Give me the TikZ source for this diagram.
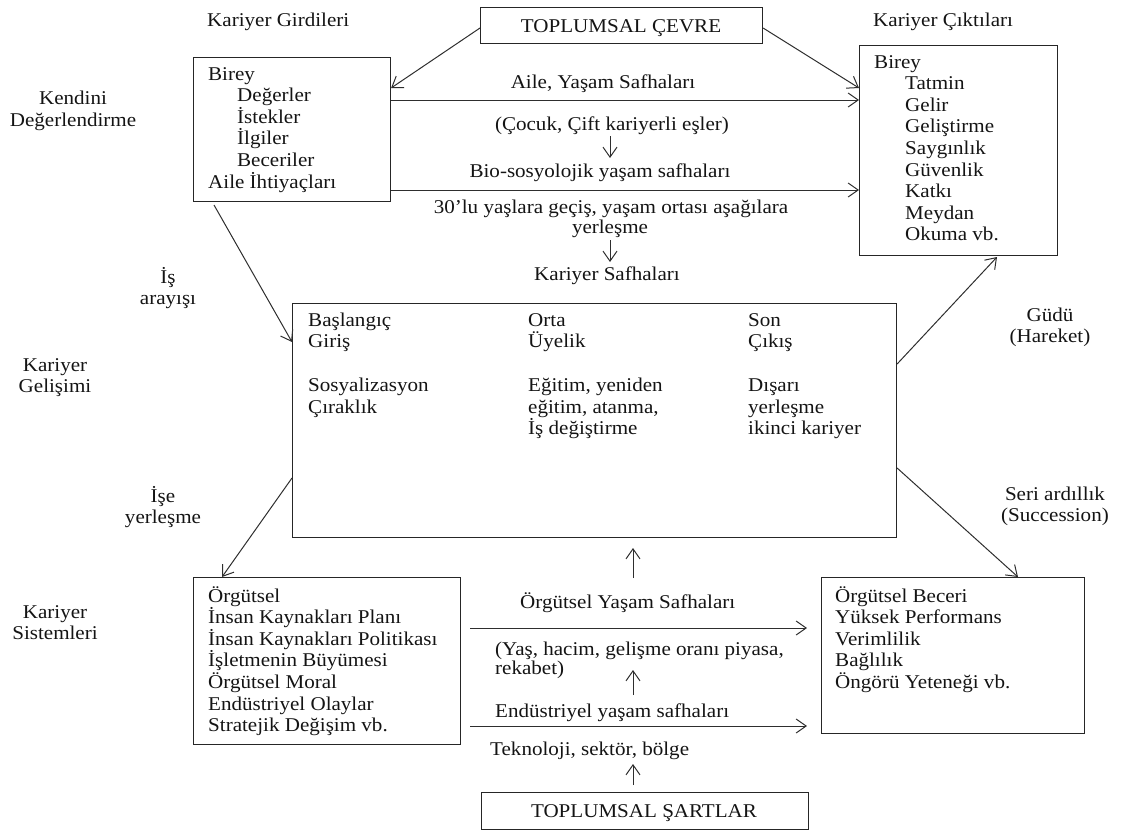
\documentclass[tikz,border=0pt]{standalone}
\usepackage{fontspec}
\setmainfont{Liberation Serif}[FakeStretch=1.08]
\usetikzlibrary{arrows.meta}
\begin{document}
\begin{tikzpicture}[x=1pt,y=-1pt,
  box/.style={draw=black!85, line width=1.1pt, inner sep=0pt, anchor=north west},
  txt/.style={inner sep=0pt, anchor=base west, text=black!92},
  ctxt/.style={inner sep=0pt, anchor=base, text=black!92},
  arr/.style={draw=black!82, line width=1pt, -{Straight Barb[length=10pt,width=14pt,line width=1pt]}},
  every node/.append style={font=\fontsize{19.5}{21.6}\selectfont}]
\useasboundingbox (0,0) rectangle (1122,831);
% boxes
\node[box, minimum width=282, minimum height=36] (env) at (480,7) {};
\node[box, minimum width=197, minimum height=144] (inp) at (193,57) {};
\node[box, minimum width=198, minimum height=210] (out) at (859,45) {};
\node[box, minimum width=604, minimum height=234] (mid) at (292,303) {};
\node[box, minimum width=267, minimum height=167] (org) at (193,577) {};
\node[box, minimum width=263, minimum height=156] (res) at (821,577) {};
\node[box, minimum width=327, minimum height=37] (soc) at (481,792) {};
% box titles
\node[ctxt] (envt) at (621,32) {TOPLUMSAL ÇEVRE};
\node[ctxt] (soct) at (644,817) {TOPLUMSAL ŞARTLAR};
% headings
\node[txt] (hin) at (207,26) {Kariyer Girdileri};
\node[txt] (hout) at (873,26) {Kariyer Çıktıları};
% input box text
\node[txt] (i1) at (208,80) {Birey};
\node[txt] (i2) at (237,101.6) {Değerler};
\node[txt] (i3) at (237,123.2) {İstekler};
\node[txt] (i4) at (237,144.8) {İlgiler};
\node[txt] (i5) at (237,166.4) {Beceriler};
\node[txt] (i6) at (208,188) {Aile İhtiyaçları};
% output box text
\node[txt] (o1) at (874,68) {Birey};
\node[txt] (o2) at (905,89.6) {Tatmin};
\node[txt] (o3) at (905,111.2) {Gelir};
\node[txt] (o4) at (905,132.8) {Geliştirme};
\node[txt] (o5) at (905,154.4) {Saygınlık};
\node[txt] (o6) at (905,176) {Güvenlik};
\node[txt] (o7) at (905,197.6) {Katkı};
\node[txt] (o8) at (905,219.2) {Meydan};
\node[txt] (o9) at (905,240.8) {Okuma vb.};
% middle text
\node[ctxt] (l1) at (603,88) {Aile, Yaşam Safhaları};
\node[ctxt] (l2) at (612,130) {(Çocuk, Çift kariyerli eşler)};
\node[ctxt] (l3) at (600,177) {Bio-sosyolojik yaşam safhaları};
\node[ctxt] (l4) at (611,213) {30’lu yaşlara geçiş, yaşam ortası aşağılara};
\node[ctxt] (l5) at (610,233) {yerleşme};
\node[ctxt] (l6) at (607,280) {Kariyer Safhaları};
% left labels
\node[ctxt] (k1) at (73,104) {Kendini};
\node[ctxt] (k2) at (73,126) {Değerlendirme};
\node[ctxt] (a1) at (168,283) {İş};
\node[ctxt] (a2) at (168,304) {arayışı};
\node[ctxt] (g1) at (55,371) {Kariyer};
\node[ctxt] (g2) at (55,392) {Gelişimi};
\node[ctxt] (y1) at (163,502) {İşe};
\node[ctxt] (y2) at (163,523) {yerleşme};
\node[ctxt] (s1) at (55,618) {Kariyer};
\node[ctxt] (s2) at (55,639) {Sistemleri};
% right labels
\node[ctxt] (h1) at (1050,321) {Güdü};
\node[ctxt] (h2) at (1050,342) {(Hareket)};
\node[ctxt] (r1) at (1055,500) {Seri ardıllık};
\node[ctxt] (r2) at (1055,521) {(Succession)};
% career phases box text
\node[txt] (m1) at (308,326) {Başlangıç};
\node[txt] (m2) at (308,347.5) {Giriş};
\node[txt] (m3) at (308,391.5) {Sosyalizasyon};
\node[txt] (m4) at (308,413) {Çıraklık};
\node[txt] (n1) at (528,326) {Orta};
\node[txt] (n2) at (528,347.5) {Üyelik};
\node[txt] (n3) at (528,391.5) {Eğitim, yeniden};
\node[txt] (n4) at (528,413) {eğitim, atanma,};
\node[txt] (n5) at (528,434.5) {İş değiştirme};
\node[txt] (p1) at (748,326) {Son};
\node[txt] (p2) at (748,347.5) {Çıkış};
\node[txt] (p3) at (748,391.5) {Dışarı};
\node[txt] (p4) at (748,413) {yerleşme};
\node[txt] (p5) at (748,434.5) {ikinci kariyer};
% organisation box text
\node[txt] (q1) at (208,602) {Örgütsel};
\node[txt] (q2) at (208,623.6) {İnsan Kaynakları Planı};
\node[txt] (q3) at (208,645.2) {İnsan Kaynakları Politikası};
\node[txt] (q4) at (208,666.8) {İşletmenin Büyümesi};
\node[txt] (q5) at (208,688.4) {Örgütsel Moral};
\node[txt] (q6) at (208,710) {Endüstriyel Olaylar};
\node[txt] (q7) at (208,731.6) {Stratejik Değişim vb.};
% results box text
\node[txt] (e1) at (835,602) {Örgütsel Beceri};
\node[txt] (e2) at (835,623.6) {Yüksek Performans};
\node[txt] (e3) at (835,645.2) {Verimlilik};
\node[txt] (e4) at (835,666.8) {Bağlılık};
\node[txt] (e5) at (835,688.4) {Öngörü Yeteneği vb.};
% bottom middle text
\node[txt] (b1) at (520,608) {Örgütsel Yaşam Safhaları};
\node[txt] (b2) at (495,655) {(Yaş, hacim, gelişme oranı piyasa,};
\node[txt] (b3) at (495,674) {rekabet)};
\node[txt] (b4) at (495,717) {Endüstriyel yaşam safhaları};
\node[txt] (b5) at (490,755) {Teknoloji, sektör, bölge};
% connectors
\draw[arr] (env.west |- 0,28) -- (inp.east |- 0,88);
\draw[arr] (env.east |- 0,28) -- (out.west |- 0,88);
\draw[arr] (inp.east |- 0,100) -- (out.west |- 0,100);
\draw[arr] (inp.east |- 0,190) -- (out.west |- 0,190);
\draw[arr] (610,136) -- (610,158);
\draw[arr] (610,240) -- (610,262);
\draw[arr] (214,205) -- (mid.west |- 0,342);
\draw[arr] (mid.west |- 0,478) -- (222,577);
\draw[arr] (mid.east |- 0,364) -- (997,257);
\draw[arr] (mid.east |- 0,468) -- (1018,577);
\draw[arr] (633,578) -- (633,548);
\draw[arr, shorten >=14pt] (470,628) -- (res.west |- 0,628);
\draw[arr] (633,695) -- (633,670);
\draw[arr, shorten >=14pt] (470,726) -- (res.west |- 0,726);
\draw[arr, shorten <=7pt] (soc.north -| 633,0) -- (633,764);
\end{tikzpicture}
\end{document}
